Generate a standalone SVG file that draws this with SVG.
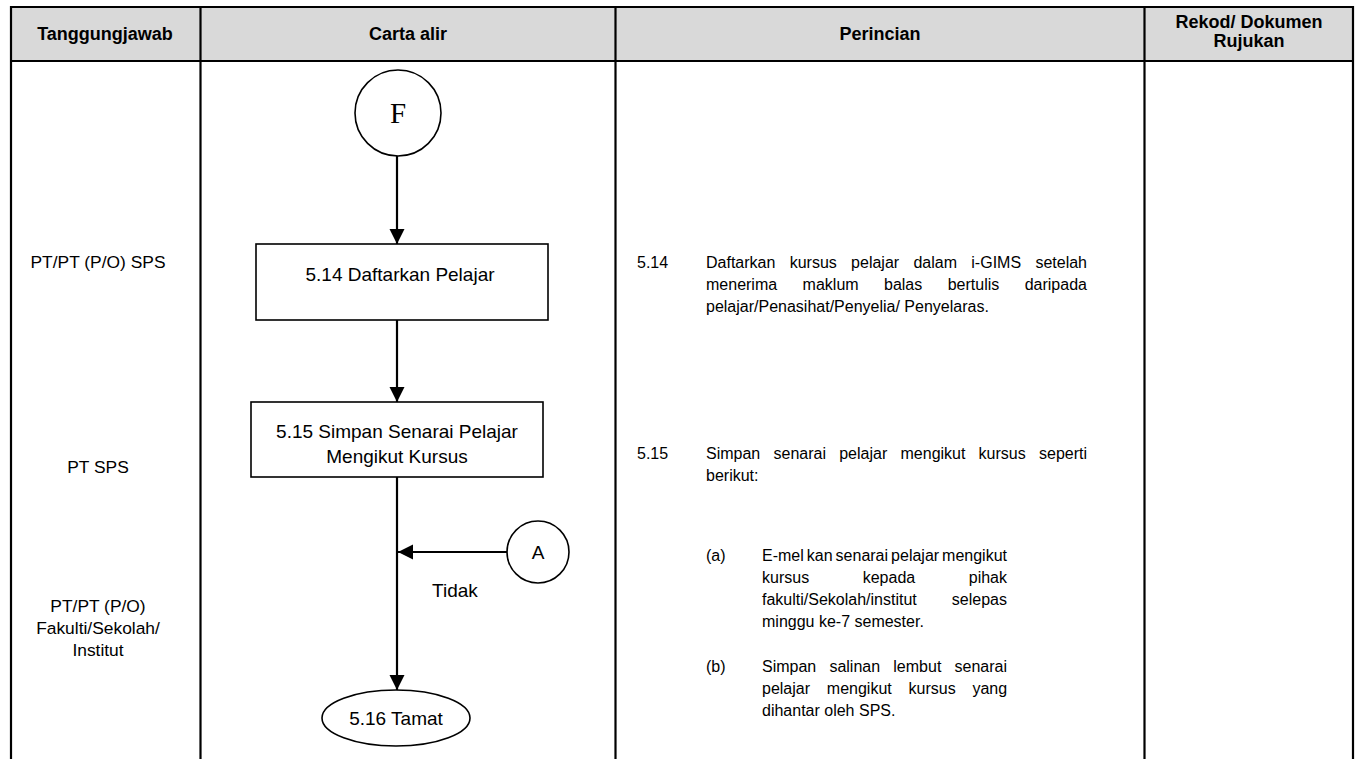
<svg xmlns="http://www.w3.org/2000/svg" width="1356" height="759" viewBox="0 0 1356 759">
  <style>
    .grid { stroke: #000; stroke-width: 2.2; fill: none; }
    .hdr { font-family: "Liberation Sans", Arial, sans-serif; font-weight: bold; font-size: 18px; fill: #000; text-anchor: middle; }
    .who { font-family: "Liberation Sans", Arial, sans-serif; font-size: 17.4px; fill: #000; text-anchor: middle; }
    .desc { font-family: "Liberation Sans", Arial, sans-serif; font-size: 16px; fill: #000; }
    .desc .e { text-anchor: end; }
    .shape { fill: #fff; stroke: #000; stroke-width: 1.6; }
    .lbl { font-family: "Liberation Sans", Arial, sans-serif; font-size: 19px; fill: #000; text-anchor: middle; }
    .conn { stroke: #000; stroke-width: 2.2; fill: none; marker-end: url(#arrow); }
  </style>
  <defs>
    <marker id="arrow" markerUnits="userSpaceOnUse" markerWidth="16" markerHeight="16" refX="15" refY="8" orient="auto">
      <path d="M0,0.5 L15,8 L0,15.5 z" fill="#000"/>
    </marker>
  </defs>

  <rect width="1356" height="759" fill="#fff"/>

  <!-- table frame and header row -->
  <g id="table">
    <rect x="11" y="7" width="1342" height="54" fill="#d9d9d9"/>
    <path class="grid" d="M11,770 V7 H1353 V770 M11,61 H1353 M200.5,7 V770 M615.5,7 V770 M1144.5,7 V770"/>
    <text class="hdr" x="105" y="40">Tanggungjawab</text>
    <text class="hdr" x="408" y="40">Carta alir</text>
    <text class="hdr" x="880" y="40">Perincian</text>
    <text class="hdr" x="1249" y="28">Rekod/ Dokumen</text>
    <text class="hdr" x="1249" y="47">Rujukan</text>
  </g>

  <!-- responsibility column -->
  <g id="responsibility">
    <text class="who" x="98" y="268">PT/PT (P/O) SPS</text>
    <text class="who" x="98" y="473">PT SPS</text>
    <text class="who" x="98" y="612">PT/PT (P/O)</text>
    <text class="who" x="98" y="634">Fakulti/Sekolah/</text>
    <text class="who" x="98" y="656">Institut</text>
  </g>

  <!-- connectors -->
  <g id="connectors">
    <line class="conn" x1="397" y1="156" x2="397" y2="244"/>
    <line class="conn" x1="397" y1="320" x2="397" y2="402"/>
    <line class="conn" x1="397" y1="477" x2="397" y2="690"/>
    <line class="conn" x1="507" y1="552" x2="398" y2="552"/>
    <text class="lbl" x="455" y="597">Tidak</text>
  </g>

  <!-- flowchart nodes -->
  <g id="node-F">
    <circle class="shape" cx="398" cy="113" r="43"/>
    <text x="398" y="123" font-family="'Liberation Serif', 'Times New Roman', serif" font-size="29" text-anchor="middle">F</text>
  </g>
  <g id="node-514">
    <rect class="shape" x="256" y="244" width="292" height="76"/>
    <text class="lbl" x="400" y="281">5.14 Daftarkan Pelajar</text>
  </g>
  <g id="node-515">
    <rect class="shape" x="251" y="402" width="292" height="75"/>
    <text class="lbl" x="397" y="438">5.15 Simpan Senarai Pelajar</text>
    <text class="lbl" x="397" y="463">Mengikut Kursus</text>
  </g>
  <g id="node-A">
    <circle class="shape" cx="538" cy="552" r="31"/>
    <text class="lbl" x="538" y="559">A</text>
  </g>
  <g id="node-516">
    <ellipse class="shape" cx="396" cy="718" rx="74" ry="28"/>
    <text class="lbl" x="396" y="725">5.16 Tamat</text>
  </g>

  <!-- description column (justified lines set word by word) -->
  <g id="description" class="desc">
    <text x="637" y="268">5.14</text>
    <text y="268"><tspan x="706">Daftarkan</tspan><tspan x="789.7">kursus</tspan><tspan x="851.1">pelajar</tspan><tspan x="913.4">dalam</tspan><tspan x="971.3">i-GIMS</tspan><tspan x="1035.4">setelah</tspan></text>
    <text y="290"><tspan x="706">menerima</tspan><tspan x="802.6">maklum</tspan><tspan x="884">balas</tspan><tspan x="947.7">bertulis</tspan><tspan x="1024.7">daripada</tspan></text>
    <text x="706" y="312">pelajar/Penasihat/Penyelia/ Penyelaras.</text>

    <text x="637" y="459">5.15</text>
    <text y="459"><tspan x="706">Simpan</tspan><tspan x="773.5">senarai</tspan><tspan x="839.2">pelajar</tspan><tspan x="900.5">mengikut</tspan><tspan x="978.6">kursus</tspan><tspan x="1039">seperti</tspan></text>
    <text x="706" y="481">berikut:</text>

    <text x="706" y="561">(a)</text>
    <text y="561"><tspan x="762">E-mel</tspan><tspan x="806.8">kan</tspan><tspan x="835.6">senarai</tspan><tspan x="891.1">pelajar</tspan><tspan x="942.1">mengikut</tspan></text>
    <text y="583"><tspan x="762">kursus</tspan><tspan x="862.7">kepada</tspan></text>
    <text class="e" x="1007" y="583">pihak</text>
    <text x="762" y="605">fakulti/Sekolah/institut</text>
    <text class="e" x="1007" y="605">selepas</text>
    <text x="762" y="627">minggu ke-7 semester.</text>

    <text x="706" y="672">(b)</text>
    <text y="672"><tspan x="762">Simpan</tspan><tspan x="829.4">salinan</tspan><tspan x="893.3">lembut</tspan><tspan x="954.5">senarai</tspan></text>
    <text y="694"><tspan x="762">pelajar</tspan><tspan x="826.8">mengikut</tspan><tspan x="908.5">kursus</tspan><tspan x="972.4">yang</tspan></text>
    <text x="762" y="716">dihantar oleh SPS.</text>
  </g>
</svg>
